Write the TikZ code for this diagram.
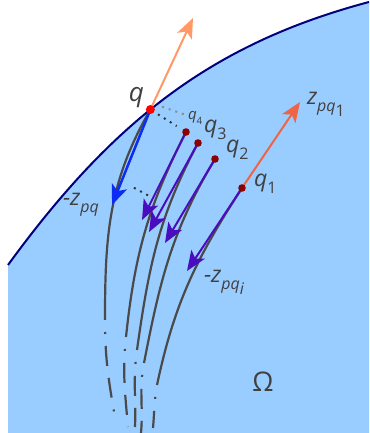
\documentclass[tikz,border=0pt]{standalone}
\usepackage{fontspec}
\setmainfont{Open Sans}
\usetikzlibrary{arrows.meta,calc}
\definecolor{regionblue}{HTML}{99CCFF}
\definecolor{edgenavy}{HTML}{000080}
\definecolor{curvegray}{HTML}{4A4A4A}
\definecolor{normlight}{HTML}{FF9966}
\definecolor{normdark}{HTML}{F06446}
\definecolor{dirblue}{HTML}{0A2CF5}
\definecolor{dirpurple}{HTML}{4A0CBF}
\definecolor{ptred}{HTML}{FF0000}
\definecolor{ptdark}{HTML}{8B0000}
\definecolor{txtgray}{HTML}{404040}
\newcommand{\dn}[2][16]{\raisebox{-0.3em}{\fontsize{#1}{#1}\selectfont #2}}

\begin{document}
\begin{tikzpicture}[x=1pt,y=1pt,line width=2pt,>={Stealth[length=20pt,width=16pt,inset=5pt]},
  traj/.style={draw=curvegray,line width=2.2pt},
  trajend/.style={traj,dash pattern=on 0pt off 12pt on 2pt off 12pt on 20pt off 12pt on 20pt off 0pt},
  dots/.style={line width=2pt,dash pattern=on 2pt off 5pt},
  lbl/.style={text=txtgray,inner sep=0pt,anchor=base west,font=\fontsize{23}{23}\selectfont\itshape}]
\useasboundingbox (0,0) rectangle (369,433);
% ---------- region Omega and its boundary ----------
\fill[regionblue] (8,0) -- (8,168) .. controls (115,315) and (215,390) .. (369,431) -- (369,0) -- cycle;
\draw[edgenavy] (8,168) .. controls (115,315) and (215,390) .. (369,431) coordinate[pos=0.44] (q);
% points q_i, arrow tips, trajectory ends
\coordinate (q4) at (186,301);
\coordinate (q3) at (198,290);
\coordinate (q2) at (215,274);
\coordinate (q1) at (242,245);
\coordinate (t0) at (112,228);
\coordinate (t4) at (142,213);
\coordinate (t3) at (149,201);
\coordinate (t2) at (165,190);
\coordinate (t1) at (187,162);
\coordinate (nq) at (193,415);
\coordinate (n1) at (300,331);
\coordinate (mq) at (105,113);  \coordinate (eq) at (116,10);
\coordinate (mq4) at (126,96);  \coordinate (eq4) at (128,6);
\coordinate (mq3) at (137,83);  \coordinate (eq3) at (135,6);
\coordinate (mq2) at (144,70);  \coordinate (eq2) at (141,0);
\coordinate (mq1) at (157,48);  \coordinate (eq1) at (153,5);
% ---------- trajectories: solid, then dash-dot ----------
\foreach \p/\a/\b/\c/\d in {q/240/90/270/100,q4/243/84/264/95,q3/242/82/262/88,q2/239/79/259/85,q1/237/78/260/85}{
  \draw[traj] (\p) to[out=\a,in=\b] (m\p);
  \draw[trajend] (m\p) to[out=\c,in=\d] (e\p);
}
% ---------- normals and directions ----------
\draw[->,normlight] (q) -- (nq);
\draw[->,normdark] (q1) -- (n1);
\draw[->,dirblue,line width=2.5pt] (q) -- (t0);
\foreach \p/\t in {q4/t4,q3/t3,q2/t2,q1/t1}{
  \draw[->,dirpurple] (\p) -- (\t);
}
\draw[dots,black!80,shorten <=9pt,shorten >=11pt] (q) -- (q4);
\draw[dots,black!80,shorten <=14pt,shorten >=5pt] ($(q)!0.75!(t0)$) -- ($(q4)!0.75!(t4)$);
% points
\fill[ptred] (q) circle (4.5);
\foreach \p in {q4,q3,q2,q1}{
  \fill[ptdark] (\p) circle (3.8);
}
% ---------- labels ----------
\node[lbl,anchor=base,font=\fontsize{26}{26}\selectfont\itshape] (lq) at (136.5,331) {q};
\node[lbl,font=\fontsize{15}{15}\selectfont\itshape] (lq4) at (187,313) {q\dn[10]{\upshape 4}};
\node[lbl] (lq3) at (203,300) {q\dn{\upshape 3}};
\node[lbl] (lq2) at (225,280) {q\dn{\upshape 2}};
\node[lbl] (lq1) at (253,246) {q\dn{\upshape 1}};
\node[lbl] (lz1) at (306,328) {z\dn{pq\dn{\upshape 1}}};
\node[lbl] (lzq) at (62,227) {-z\dn{pq}};
\node[lbl] (lzi) at (203,150) {-z\dn{pq\dn{i}}};
\node[lbl,anchor=base,font=\fontsize{27}{27}\selectfont] (lom) at (263,41) {Ω};
\draw[dots,gray!90,shorten <=27pt,shorten >=9pt] (lq.center) -- (lq4.center);
\end{tikzpicture}
\end{document}
